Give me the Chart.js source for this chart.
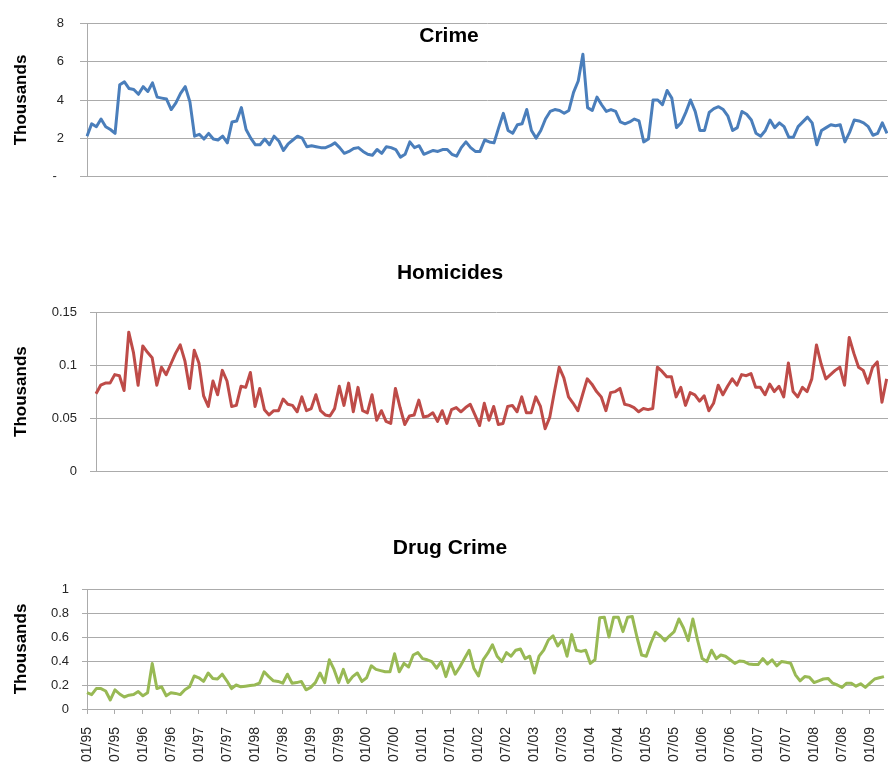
<!DOCTYPE html>
<html>
<head>
<meta charset="utf-8">
<title>Crime, Homicides and Drug Crime</title>
<script src="https://cdn.jsdelivr.net/npm/chart.js@4.4.1/dist/chart.umd.min.js"></script>
<style>
  html, body { margin: 0; padding: 0; background: #fff; overflow: hidden; }
  .panel { position: absolute; left: 0; }
</style>
</head>
<body>
<div class="panel" style="top:0; width:900px; height:200px;"><canvas id="crimeChart"></canvas></div>
<div class="panel" style="top:260px; width:910px; height:232px;"><canvas id="homicideChart"></canvas></div>
<div class="panel" style="top:530px; width:900px; height:240px;"><canvas id="drugChart"></canvas></div>
<script>
// monthly series, Jan 1995 .. Apr 2009 (one row per year), in thousands
const startYear = 1995;
const monthCount = 172;

const crime = [
  2.1, 2.75, 2.6, 3.0, 2.6, 2.45, 2.25, 4.8, 4.95, 4.6, 4.55, 4.3,
  4.7, 4.45, 4.9, 4.15, 4.1, 4.05, 3.5, 3.85, 4.35, 4.7, 3.9, 2.1,
  2.2, 1.95, 2.25, 1.95, 1.9, 2.1, 1.75, 2.85, 2.9, 3.6, 2.45, 2.0,
  1.65, 1.65, 1.95, 1.65, 2.1, 1.85, 1.35, 1.7, 1.9, 2.1, 2.0, 1.55,
  1.6, 1.55, 1.5, 1.5, 1.6, 1.75, 1.5, 1.2, 1.3, 1.45, 1.5, 1.3,
  1.15, 1.1, 1.4, 1.2, 1.55, 1.5, 1.4, 1.0, 1.15, 1.8, 1.5, 1.6,
  1.15, 1.25, 1.35, 1.3, 1.4, 1.4, 1.15, 1.05, 1.5, 1.8, 1.5, 1.3,
  1.3, 1.9, 1.8, 1.75, 2.55, 3.3, 2.4, 2.25, 2.7, 2.75, 3.5, 2.4,
  2.0, 2.4, 3.0, 3.4, 3.5, 3.45, 3.3, 3.45, 4.4, 5.0, 6.4, 3.6,
  3.45, 4.15, 3.75, 3.4, 3.5, 3.4, 2.85, 2.75, 2.85, 3.0, 2.9, 1.8,
  1.95, 4.0, 4.0, 3.75, 4.5, 4.1, 2.55, 2.8, 3.35, 4.0, 3.4, 2.4,
  2.4, 3.35, 3.55, 3.65, 3.5, 3.15, 2.4, 2.55, 3.4, 3.25, 2.95, 2.25,
  2.1, 2.4, 2.95, 2.55, 2.8, 2.6, 2.05, 2.05, 2.6, 2.85, 3.1, 2.8,
  1.65, 2.4, 2.55, 2.7, 2.65, 2.7, 1.8, 2.3, 2.95, 2.9, 2.8, 2.6,
  2.15, 2.25, 2.8, 2.25,
];

// last two months fall outside the picture
const homicides = [
  0.073, 0.081, 0.083, 0.083, 0.091, 0.090, 0.076, 0.131, 0.112, 0.081, 0.118, 0.112,
  0.107, 0.081, 0.098, 0.091, 0.101, 0.111, 0.119, 0.104, 0.078, 0.114, 0.102, 0.071,
  0.061, 0.085, 0.072, 0.095, 0.085, 0.061, 0.062, 0.080, 0.079, 0.093, 0.061, 0.078,
  0.058, 0.053, 0.057, 0.057, 0.068, 0.063, 0.062, 0.056, 0.070, 0.057, 0.059, 0.072,
  0.057, 0.053, 0.052, 0.059, 0.080, 0.062, 0.083, 0.056, 0.079, 0.057, 0.055, 0.072,
  0.048, 0.057, 0.047, 0.045, 0.078, 0.060, 0.044, 0.052, 0.053, 0.067, 0.051, 0.052,
  0.055, 0.047, 0.057, 0.045, 0.058, 0.060, 0.056, 0.060, 0.063, 0.053, 0.043, 0.064,
  0.048, 0.061, 0.044, 0.045, 0.061, 0.062, 0.056, 0.070, 0.055, 0.055, 0.070, 0.061,
  0.040, 0.051, 0.075, 0.098, 0.088, 0.070, 0.064, 0.057, 0.072, 0.087, 0.082, 0.075,
  0.070, 0.057, 0.074, 0.075, 0.078, 0.063, 0.062, 0.060, 0.056, 0.059, 0.058, 0.059,
  0.098, 0.094, 0.089, 0.089, 0.070, 0.079, 0.062, 0.074, 0.072, 0.066, 0.071, 0.057,
  0.064, 0.081, 0.072, 0.080, 0.087, 0.081, 0.091, 0.090, 0.092, 0.079, 0.079, 0.072,
  0.082, 0.075, 0.080, 0.070, 0.102, 0.075, 0.070, 0.079, 0.075, 0.087, 0.119, 0.101,
  0.087, 0.091, 0.095, 0.098, 0.081, 0.126, 0.111, 0.098, 0.095, 0.083, 0.098, 0.103,
  0.065, 0.087, null, null,
];

const drugCrime = [
  0.136, 0.12, 0.17, 0.17, 0.15, 0.075, 0.16, 0.125, 0.10, 0.115, 0.12, 0.145,
  0.11, 0.135, 0.38, 0.17, 0.185, 0.11, 0.135, 0.13, 0.12, 0.16, 0.185, 0.275,
  0.26, 0.23, 0.30, 0.255, 0.25, 0.29, 0.235, 0.17, 0.20, 0.185, 0.19, 0.195,
  0.20, 0.215, 0.31, 0.27, 0.235, 0.23, 0.215, 0.29, 0.215, 0.22, 0.23, 0.16,
  0.18, 0.22, 0.30, 0.22, 0.41, 0.33, 0.22, 0.33, 0.22, 0.27, 0.30, 0.23,
  0.26, 0.36, 0.33, 0.32, 0.31, 0.31, 0.46, 0.31, 0.38, 0.35, 0.45, 0.47,
  0.42, 0.41, 0.395, 0.34, 0.395, 0.27, 0.39, 0.29, 0.35, 0.42, 0.49, 0.34,
  0.275, 0.41, 0.465, 0.535, 0.44, 0.395, 0.47, 0.44, 0.49, 0.50, 0.42, 0.44,
  0.30, 0.44, 0.49, 0.575, 0.61, 0.525, 0.575, 0.44, 0.62, 0.49, 0.48, 0.49,
  0.38, 0.41, 0.76, 0.765, 0.60, 0.765, 0.765, 0.645, 0.765, 0.77, 0.60, 0.45,
  0.44, 0.55, 0.64, 0.61, 0.57, 0.61, 0.645, 0.75, 0.675, 0.57, 0.75, 0.575,
  0.42, 0.395, 0.49, 0.42, 0.45, 0.44, 0.41, 0.38, 0.40, 0.395, 0.375, 0.37,
  0.37, 0.42, 0.375, 0.41, 0.36, 0.395, 0.39, 0.38, 0.285, 0.235, 0.27, 0.265,
  0.22, 0.235, 0.25, 0.255, 0.215, 0.20, 0.18, 0.215, 0.215, 0.19, 0.21, 0.18,
  0.215, 0.25, 0.26, 0.27,
];

// "01/95", "02/95", ... category labels
const months = [];
for (let i = 0; i < monthCount; i++) {
  const m = (i % 12) + 1;
  const y = (startYear + Math.floor(i / 12)) % 100;
  months.push(String(m).padStart(2, "0") + "/" + String(y).padStart(2, "0"));
}
const labelEvery = 6;

const gridColor = "#ababab";
const textColor = "#262626";
const tickFont = { family: "'Liberation Sans', Arial, sans-serif", size: 13 };

// chart title drawn over the plot, like the spreadsheet original
const panelTitle = {
  id: "panelTitle",
  afterDraw(chart, args, opts) {
    const ctx = chart.ctx;
    ctx.save();
    ctx.font = "bold 21px 'Liberation Sans', Arial, sans-serif";
    ctx.fillStyle = "#000";
    ctx.textAlign = "center";
    ctx.textBaseline = "middle";
    ctx.fillText(opts.text, opts.x, opts.y);
    ctx.restore();
  },
};

function plainNumber(value) {
  return +value.toFixed(2);
}

function makePanel(canvasId, cfg) {
  const ctx = document.getElementById(canvasId).getContext("2d");
  const showDates = !!cfg.showDates;

  return new Chart(ctx, {
    type: "line",
    data: {
      labels: months,
      datasets: [
        {
          label: cfg.title,
          data: cfg.values,
          borderColor: cfg.color,
          borderWidth: 3,
          tension: 0,
          pointRadius: 0,
          borderJoinStyle: "round",
          spanGaps: false,
        },
      ],
    },
    options: {
      responsive: true,
      maintainAspectRatio: false,
      animation: false,
      layout: { padding: cfg.padding },
      plugins: {
        legend: { display: false },
        tooltip: { enabled: false },
        panelTitle: { text: cfg.title, x: cfg.titleX, y: cfg.titleY },
      },
      scales: {
        x: {
          offset: false,
          border: { display: true, color: gridColor, width: 1 },
          grid: {
            display: showDates,
            drawOnChartArea: false,
            drawTicks: showDates,
            tickLength: 5,
            color: gridColor,
          },
          ticks: {
            display: showDates,
            autoSkip: false,
            maxRotation: 90,
            minRotation: 90,
            padding: 13,
            color: textColor,
            font: { family: "'Liberation Sans', Arial, sans-serif", size: 14 },
          },
          afterBuildTicks: function (scale) {
            scale.ticks = scale.ticks.filter((t) => t.value % labelEvery === 0);
          },
          afterFit: function (scale) {
            scale.height = cfg.xHeight;
          },
        },
        y: {
          min: cfg.min,
          max: cfg.max,
          border: { display: true, color: gridColor, width: 1 },
          grid: {
            color: gridColor,
            tickLength: cfg.tickLength,
            lineWidth: 1,
          },
          ticks: {
            stepSize: cfg.step,
            padding: cfg.labelPad,
            color: textColor,
            font: tickFont,
            callback: cfg.tickFormat || plainNumber,
          },
          title: {
            display: true,
            text: "Thousands",
            color: "#000",
            padding: { top: 11, bottom: 0 },
            font: { family: "'Liberation Sans', Arial, sans-serif", size: 17, weight: "bold" },
          },
          afterFit: function (scale) {
            scale.width = cfg.yWidth;
          },
        },
      },
    },
    plugins: [panelTitle],
  });
}

makePanel("crimeChart", {
  title: "Crime",
  values: crime,
  color: "#4a7ebb",
  min: 0,
  max: 8,
  step: 2,
  tickLength: 7,
  labelPad: 16,
  yWidth: 87,
  xHeight: 0,
  padding: { top: 14, right: 13, bottom: 11, left: 0 },
  titleX: 449,
  titleY: 36,
  tickFormat: function (value) {
    return value === 0 ? "-  " : value;
  },
});

makePanel("homicideChart", {
  title: "Homicides",
  values: homicides,
  color: "#be4b48",
  min: 0,
  max: 0.15,
  step: 0.05,
  tickLength: 6,
  labelPad: 13,
  yWidth: 96,
  xHeight: 0,
  padding: { top: 52, right: 14, bottom: 4, left: 0 },
  titleX: 450,
  titleY: 13,
});

makePanel("drugChart", {
  title: "Drug Crime",
  values: drugCrime,
  color: "#98b954",
  min: 0,
  max: 1,
  step: 0.2,
  tickLength: 5,
  labelPad: 13,
  yWidth: 87,
  xHeight: 61,
  showDates: true,
  padding: { top: 59, right: 13, bottom: 0, left: 0 },
  titleX: 450,
  titleY: 18,
});
</script>
</body>
</html>
